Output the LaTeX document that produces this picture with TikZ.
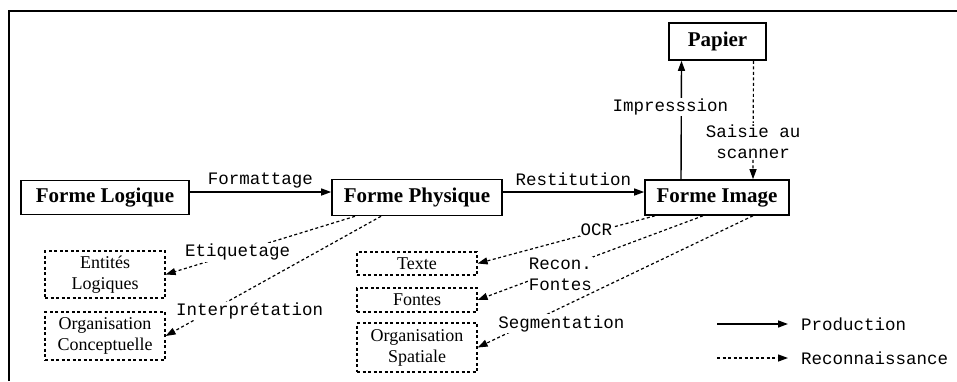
\documentclass[tikz,border=0pt]{standalone}
\usepackage{fontspec}
\setmainfont{Liberation Serif}
\setmonofont{Liberation Mono}
\usetikzlibrary{arrows.meta}
\begin{document}
\begin{tikzpicture}[x=1pt,y=-1pt,
  tip/.style={-{Triangle[length=10pt,width=7pt]}},
  prod/.style={draw, line width=1.4pt, tip},
  reco/.style={draw, line width=1.2pt, dash pattern=on 3pt off 2.5pt, tip},
  etat/.style={draw, line width=1.6pt, inner sep=0pt,
    font=\fontsize{21}{23}\selectfont\bfseries},
  partie/.style={draw, line width=1.2pt, dash pattern=on 3pt off 2.5pt,
    minimum width=120pt, inner sep=0pt, align=center,
    font=\fontsize{18}{21}\selectfont},
  lbl/.style={font=\fontsize{17.5}{21}\selectfont\ttfamily, align=center, inner sep=1pt},
]
\useasboundingbox (0,0) rectangle (957,381);

% cadre
\draw[line width=1.5pt] (9,381) -- (9,11) -- (957,11);

% representations du document
\node[etat, minimum width=168pt, minimum height=34pt] (log) at (105,197.5) {Forme Logique};
\node[etat, minimum width=170pt, minimum height=36pt] (phy) at (417,197.5) {Forme Physique};
\node[etat, minimum width=144pt, minimum height=35pt] (img) at (717,197.5) {Forme Image};
\node[etat, minimum width=97pt, minimum height=37pt] (pap) at (717.5,41.5) {Papier};

% structures extraites
\node[partie, minimum height=47pt] (ent) at (105,274.5) {Entités\\Logiques};
\node[partie, minimum height=48pt] (org) at (105,336) {Organisation\\Conceptuelle};
\node[partie, minimum height=23pt] (tex) at (417,263.5) {Texte};
\node[partie, minimum height=24pt] (fon) at (417,300) {Fontes};
\node[partie, minimum height=49pt] (spa) at (417,347.5) {Organisation\\Spatiale};

% production
\draw[prod] ([yshift=5.5pt]log.east) -- node[lbl, pos=0.5, yshift=12pt] {Formattage} ([yshift=5.5pt]phy.west);
\draw[prod] ([yshift=5.5pt]phy.east) -- node[lbl, pos=0.5, yshift=13pt] {Restitution} ([yshift=5.5pt]img.west);
\draw[prod] ([xshift=-36pt]img.north) -- node[lbl, fill=white, pos=0.61, xshift=-11pt] {Impresssion} ([xshift=-36pt]pap.south);

% reconnaissance
\draw[reco] ([xshift=36pt]pap.south) -- node[lbl, fill=white, pos=0.68] {Saisie au\\scanner} ([xshift=36pt]img.north);
\draw[reco] ([xshift=-62pt]phy.south) -- node[lbl, fill=white, pos=0.62] {Etiquetage} (ent.east);
\draw[reco] ([xshift=-36pt]phy.south) -- node[lbl, fill=white, pos=0.61, yshift=-22pt] {Interprétation} (org.east);
\draw[reco] ([xshift=-62pt]img.south) -- node[lbl, fill=white, pos=0.33, yshift=2pt] {OCR} (tex.east);
\draw[reco] ([xshift=-14pt]img.south) -- node[lbl, fill=white, pos=0.633, yshift=-5pt] {Recon.\\Fontes} (fon.east);
\draw[reco] ([xshift=36pt]img.south) -- node[lbl, fill=white, pos=0.696, yshift=-16pt] {Segmentation} (spa.east);

% legende
\coordinate (lpa) at (717,324);
\coordinate (lpb) at (788,324);
\coordinate (lra) at (717,358);
\coordinate (lrb) at (788,358);
\node[lbl, anchor=west] (lprod) at (800,324) {Production};
\node[lbl, anchor=west] (lreco) at (800,358) {Reconnaissance};
\draw[prod] (lpa) -- (lpb);
\draw[reco] (lra) -- (lrb);
\end{tikzpicture}
\end{document}
